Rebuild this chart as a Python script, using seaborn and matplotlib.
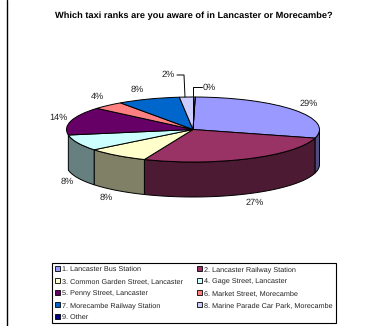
import numpy as np
import matplotlib
matplotlib.use("Agg")
import matplotlib.pyplot as plt
from matplotlib.patches import Patch
import seaborn as sns

title = "Which taxi ranks are you aware of in Lancaster or Morecambe?"
ranks = ["1. Lancaster Bus Station", "2. Lancaster Railway Station",
         "3. Common Garden Street, Lancaster", "4. Gage Street, Lancaster",
         "5. Penny Street, Lancaster", "6. Market Street, Morecambe",
         "7. Morecambe Railway Station", "8. Marine Parade Car Park, Morecambe",
         "9. Other"]
shares = [29, 27, 8, 8, 14, 4, 8, 2, 0]
top_colours = ["#9999FF", "#993366", "#FFFFCC", "#CCFFFF", "#660066",
               "#FF8080", "#0066CC", "#CCCCFF", "#000080"]

W, H = 373, 326
sns.set_style("white")
plt.rcParams["font.family"] = ["Liberation Sans", "DejaVu Sans"]
plt.rcParams["text.hinting"] = "no_hinting"
palette = sns.color_palette(top_colours)

fig = plt.figure(figsize=(W / 100, H / 100), dpi=100)


def fx(px):
    return px / W


def fy(py):
    return 1 - py / H


# Pie disc is an ellipse: the axes span its width, and unit y is the minor radius.
cx, cy, rx, ry, depth = 193.0, 129.5, 126.5, 32.5, 35.0
start_angle = 89
ax = fig.add_axes([fx(cx - rx), fy(cy + ry + depth), 2 * rx / W, (2 * ry + depth) / H])
ax.pie(shares, colors=palette, startangle=start_angle, counterclock=False, radius=1,
       wedgeprops={"edgecolor": "black", "linewidth": 0.7})
ax.set_aspect("auto")
ax.set_xlim(-1, 1)
drop = depth / ry
ax.set_ylim(-1 - drop, 1)
ax.patch.set_alpha(0)
for child in ax.patches:
    child.set_clip_on(False)

# Rim of the disc: the darker wall below each slice on the front half.
bounds = start_angle - 3.6 * np.cumsum([0] + shares)
for i, colour in enumerate(palette):
    hi, lo = bounds[i], bounds[i + 1]
    start, stop = max(lo, -180), min(hi, 0)
    if stop <= start:
        continue
    t = np.radians(np.linspace(start, stop, 60))
    # Walls narrower than two pixels at the disc's edge are hidden by its outline.
    if (np.cos(t).max() - np.cos(t).min()) * rx < 2:
        continue
    xs = np.r_[np.cos(t), np.cos(t[::-1])]
    ys = np.r_[np.sin(t), np.sin(t[::-1]) - drop]
    dark = tuple(0.5 * c for c in colour)
    ax.fill(xs, ys, facecolor=dark, edgecolor="black", linewidth=0.7,
            clip_on=False, zorder=0)

fig.text(fx(193.5), fy(16), title, ha="center", va="center",
         fontsize=6.65, fontweight="bold", color="black")

# Percentage labels around the disc.
label_px = [(309, 104), (255, 203), (106, 198), (67, 182), (58, 118),
            (97, 97), (137, 90), (168, 75), (209, 88)]
for value, (px, py) in zip(shares, label_px):
    fig.text(fx(px), fy(py), f"{value}%", ha="center", va="center",
             fontsize=6.6, color="#222222")

# Leader lines for the two smallest slices.
fig.add_artist(plt.Line2D([fx(177), fx(184), fx(185)], [fy(75), fy(75), fy(97)],
                          color="black", lw=0.7))
fig.add_artist(plt.Line2D([fx(193), fx(193), fx(202)], [fy(129), fy(87), fy(87)],
                          color="black", lw=0.7))

# Left border of the chart area.
fig.add_artist(plt.Line2D([fx(7), fx(7)], [0, 1], color="black", lw=1.0))

# Legend reads across in the two columns, so split the entries by row.
order = list(range(0, 9, 2)) + list(range(1, 9, 2))
handles = [Patch(facecolor=palette[i], edgecolor="black", linewidth=0.6,
                 label=ranks[i]) for i in order]
leg = fig.legend(handles=handles, ncol=2, loc="upper left",
                 bbox_to_anchor=(fx(52), fy(263)), borderaxespad=0,
                 fontsize=5.22, frameon=True, fancybox=False, edgecolor="black",
                 framealpha=1, borderpad=0.42, labelspacing=0.72,
                 handlelength=0.62, handleheight=0.78, handletextpad=0.35,
                 columnspacing=1.95, labelcolor="#222222")
leg.get_frame().set_linewidth(0.8)

fig.savefig("out.png", dpi=100, facecolor="white")
